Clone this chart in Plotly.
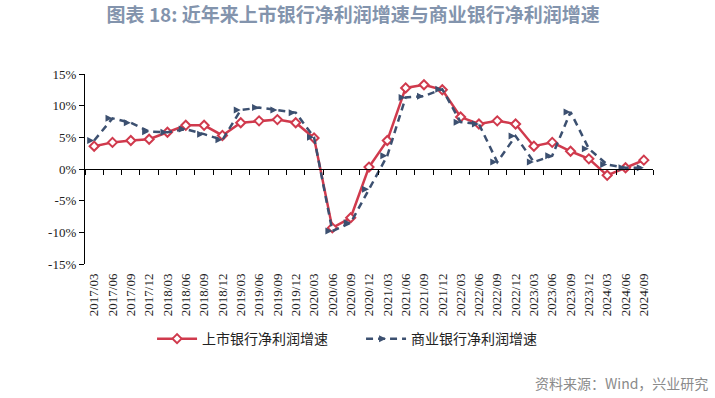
import plotly.graph_objects as go

quarters = ["2017/03","2017/06","2017/09","2017/12","2018/03","2018/06","2018/09","2018/12",
            "2019/03","2019/06","2019/09","2019/12","2020/03","2020/06","2020/09","2020/12",
            "2021/03","2021/06","2021/09","2021/12","2022/03","2022/06","2022/09","2022/12",
            "2023/03","2023/06","2023/09","2023/12","2024/03","2024/06","2024/09"]

listed_banks = [3.6, 4.2, 4.5, 4.7, 5.8, 6.9, 6.9, 5.3,
                7.3, 7.6, 7.8, 7.3, 4.9, -9.3, -7.7, 0.3,
                4.5, 12.8, 13.3, 12.5, 8.2, 7.1, 7.6, 7.1,
                3.6, 4.2, 2.8, 1.6, -1.0, 0.2, 1.4]

commercial_banks = [4.5, 8.0, 7.3, 5.9, 5.8, 6.3, 5.5, 4.6,
                    9.3, 9.7, 9.3, 8.9, 5.0, -9.8, -8.5, -3.2,
                    2.1, 11.3, 11.5, 12.6, 7.4, 7.1, 1.1, 5.2,
                    1.1, 2.1, 9.0, 3.2, 0.7, 0.2, 0.2]

y_ticks = [-15, -10, -5, 0, 5, 10, 15]
y_tick_text = [f"{v}%" for v in y_ticks]

title_text = "图表 18: 近年来上市银行净利润增速与商业银行净利润增速"
series_names = ["上市银行净利润增速", "商业银行净利润增速"]
source_text = "资料来源：Wind，兴业研究"

RED = "#d03a4d"
NAVY = "#3c5070"

fig = go.Figure()
fig.add_trace(go.Scatter(
    x=quarters, y=listed_banks, name=series_names[0], mode="lines+markers",
    line=dict(color=RED, width=2.5),
    marker=dict(symbol="diamond", size=7, color="white", line=dict(color=RED, width=2)),
    xaxis="x", yaxis="y"))
fig.add_trace(go.Scatter(
    x=quarters, y=commercial_banks, name=series_names[1], mode="lines+markers",
    line=dict(color=NAVY, width=2.5, dash="7px,5px"),
    marker=dict(symbol="arrow-right", size=7, color=NAVY),
    xaxis="x", yaxis="y"))
# invisible trace to carry the bottom label axis
fig.add_trace(go.Scatter(x=quarters, y=[None]*len(quarters), xaxis="x2", yaxis="y",
                         showlegend=False, hoverinfo="skip", mode="lines"))

fig.update_layout(
    width=715, height=398,
    margin=dict(l=85, r=62, t=74, b=134, autoexpand=False),
    paper_bgcolor="white", plot_bgcolor="white",
    title=dict(text=f"<b>{title_text}</b>", x=0.494, xanchor="center", y=0.962, yanchor="middle",
               font=dict(family="Noto Sans CJK SC", size=19, color="#8394ad"), automargin=False),
    xaxis=dict(type="category", categoryorder="array", categoryarray=quarters,
               range=[-0.5, len(quarters)-0.5], anchor="free", position=0.5,
               showline=True, linecolor="black", linewidth=1.3,
               ticks="outside", ticklen=5, tickcolor="black", tickson="boundaries",
               showticklabels=False, showgrid=False, zeroline=False, automargin=False),
    xaxis2=dict(type="category", categoryorder="array", categoryarray=quarters,
                range=[-0.5, len(quarters)-0.5], overlaying="x", anchor="y", side="bottom",
                showline=False, ticks="", showgrid=False, zeroline=False,
                tickangle=-90, ticklabelstandoff=6, automargin=False,
                tickfont=dict(family="Liberation Serif", size=13, color="#222")),
    yaxis=dict(range=[-15, 15], tickvals=y_ticks, ticktext=y_tick_text,
               showline=True, linecolor="black", linewidth=1.3,
               ticks="outside", ticklen=5, tickcolor="black",
               showgrid=False, zeroline=False, automargin=False,
               tickfont=dict(family="Liberation Serif", size=13, color="#222")),
    legend=dict(orientation="h", x=0.486, xanchor="center", y=-0.395, yanchor="middle",
                font=dict(family="Noto Sans CJK SC", size=14, color="#222"),
                itemwidth=40, entrywidth=154, tracegroupgap=0, bgcolor="rgba(0,0,0,0)"),
    annotations=[dict(text=source_text, xref="paper", yref="paper", x=1.1, y=-0.626,
                      xanchor="right", yanchor="middle", showarrow=False,
                      font=dict(family="Noto Sans CJK SC", size=14, color="#8a8a8a"))],
)

fig.write_html("out.html", config={"displayModeBar": False},
               post_script="document.body.style.margin='0';document.body.style.padding='0';")
